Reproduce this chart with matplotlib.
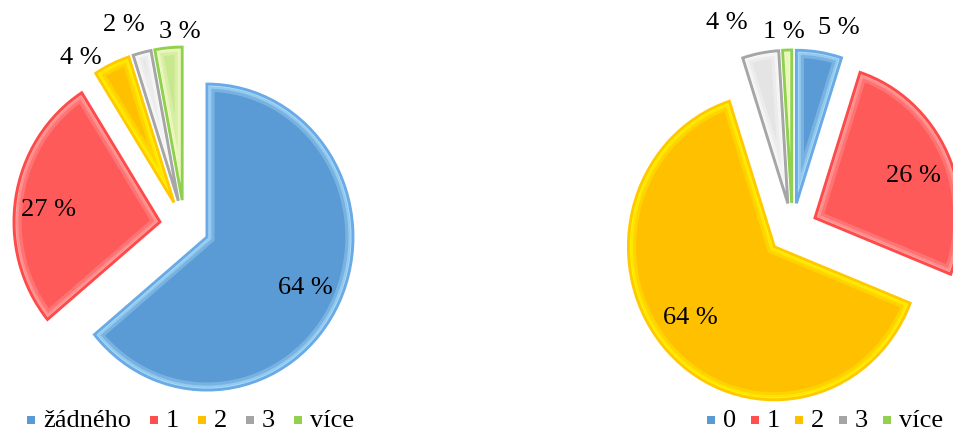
import math
import matplotlib
matplotlib.use("Agg")
import matplotlib.pyplot as plt
from matplotlib.patches import Patch, PathPatch, Rectangle
from matplotlib.legend_handler import HandlerPatch

plt.rcParams['font.family'] = ['Liberation Serif', 'DejaVu Serif']

# ---- data -------------------------------------------------------------
left_labels = ['žádného', '1', '2', '3', 'více']
left_values = [64, 27, 4, 2, 3]

right_labels = ['0', '1', '2', '3', 'více']
right_values = [5, 26, 64, 4, 1]

# ---- styling ----------------------------------------------------------
# one style per category position: face, outline, inner bevel highlight
STYLES = [
    dict(face='#5B9BD5', edge='#6AAAE6', glow='#B8E8FF'),   # blue
    dict(face='#FF5A5A', edge='#FF4A4A', glow='#FFB0B0'),   # red
    dict(face='#FFC000', edge='#FFC800', glow='#FFFF00'),   # yellow
    dict(face='#E4E4E4', edge='#A6A6A6', glow='#FFFFFF'),   # grey
    dict(face='#C8E890', edge='#8FD14F', glow='#FFFFD8'),   # green
]
LEGEND_COLORS = ['#5B9BD5', '#FF5050', '#FFC000', '#A5A5A5', '#92D050']

W, H = 954, 432
SX, SY = 146, 153          # pixels per radius unit (horizontal, vertical)
EXPLODE = 0.17
FS = 19

fig = plt.figure(figsize=(W / 100, H / 100), dpi=100)
ax = fig.add_axes([0, 0, 1, 1])


def to_data(xp, yp):
    return xp / SX, (H - yp) / SY


def draw_pie(values, center_px, label_dist, label_nudge):
    c = to_data(*center_px)
    wedges, _ = ax.pie(values, colors=[s['face'] for s in STYLES],
                       startangle=90, counterclock=False,
                       explode=[EXPLODE] * len(values), radius=1.0,
                       center=c, wedgeprops=dict(linewidth=0))
    for w, st, v, d, nudge in zip(wedges, STYLES, values,
                                  label_dist, label_nudge):
        z = w.get_zorder()
        # soft inner bevel: strokes clipped to the wedge interior
        for lw, a in [(11, 0.3), (6.5, 0.45), (3.2, 0.7)]:
            g = PathPatch(w.get_path(), transform=w.get_transform(),
                          fill=False, edgecolor=st['glow'], lw=lw,
                          alpha=a, zorder=z + 0.1, joinstyle='miter')
            ax.add_patch(g)
            g.set_clip_path(w)
        # outline
        ax.add_patch(PathPatch(w.get_path(), transform=w.get_transform(),
                               fill=False, edgecolor=st['edge'], lw=2.1,
                               zorder=z + 0.2, joinstyle='miter'))
        # value label, placed around the slice bisector
        mid = 0.5 * (w.theta1 + w.theta2) - nudge
        tx = c[0] + d * math.cos(math.radians(mid))
        ty = c[1] + d * math.sin(math.radians(mid))
        ax.text(tx, ty, f'{v} %', ha='center', va='center',
                fontsize=FS, color='black', zorder=z + 1)
    return wedges


draw_pie(left_values, (184.5, 226),
         label_dist=[0.92, 0.94, 1.31, 1.38, 1.27],
         label_nudge=[0.9, -2.6, -7.6, -3.0, 4.0])
draw_pie(right_values, (792.5, 229),
         label_dist=[1.35, 0.90, 0.91, 1.42, 1.29],
         label_nudge=[4.6, 2.4, 3.5, -7.6, -0.8])

ax.set_xlim(0, W / SX)
ax.set_ylim(0, H / SY)
ax.set_aspect('auto')
ax.axis('off')


def square_handle(legend, orig_handle, xdescent, ydescent,
                  width, height, fontsize):
    return Rectangle((-xdescent, 0.12 * fontsize), width, 0.3 * fontsize)


def add_legend(labels, x_px, spacing):
    handles = [Patch(facecolor=c, edgecolor='none') for c in LEGEND_COLORS]
    leg = fig.legend(handles, labels, loc='lower left',
                     bbox_to_anchor=(x_px / W, 0.0), ncol=len(labels),
                     frameon=False, fontsize=FS, handlelength=0.3,
                     handleheight=0.3, handletextpad=0.3,
                     columnspacing=spacing, borderpad=0, borderaxespad=0,
                     handler_map={Patch: HandlerPatch(patch_func=square_handle)})
    return leg


add_legend(left_labels, 27, 0.72)
add_legend(right_labels, 707, 0.57)

fig.savefig('out.png', dpi=100, facecolor='white')
